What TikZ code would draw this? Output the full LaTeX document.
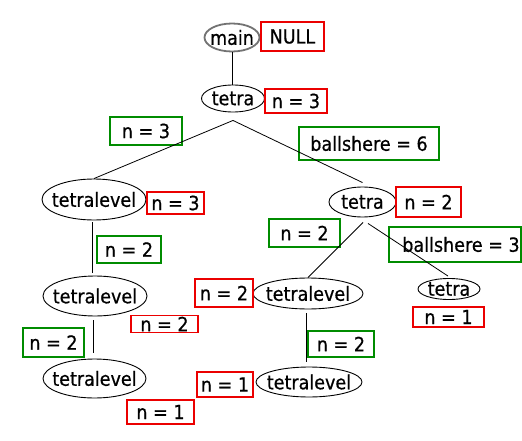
\documentclass[tikz,border=0pt]{standalone}
\usepackage{fontspec}
\setmainfont{DejaVu Sans}[FakeStretch=0.9,FakeBold=0.6]
\usetikzlibrary{shapes.geometric,calc}
\definecolor{boxred}{RGB}{235,0,0}
\definecolor{boxgreen}{RGB}{0,140,0}
\begin{document}
\begin{tikzpicture}[x=1pt,y=-1pt, font=\fontsize{19.5}{22}\selectfont,
  ell/.style={ellipse, draw, inner xsep=-30pt, inner ysep=-15pt, line width=0.9pt},
  rbox/.style={rectangle, draw=boxred, line width=1.3pt, inner sep=0pt},
  gbox/.style={rectangle, draw=boxgreen, line width=1.3pt, inner sep=0pt},
  conn/.style={draw, line width=0.8pt}]
\useasboundingbox (0,0) rectangle (522,441);
% ellipses
\node[ell, draw=black!55, line width=1.8pt, minimum width=55, minimum height=28] (main) at (232,37.5) {main};
\node[ell, minimum width=63, minimum height=27] (root) at (233,98.5) {tetra};
\node[ell, minimum width=104, minimum height=41] (L1) at (94,199.5) {tetralevel};
\node[ell, minimum width=67, minimum height=30] (T2) at (362.5,202) {tetra};
\node[ell, minimum width=104, minimum height=40] (L2) at (95,296) {tetralevel};
\node[ell, minimum width=103, minimum height=39] (L3) at (94.5,378.5) {tetralevel};
\node[ell, minimum width=110, minimum height=31] (R1) at (308,293.5) {tetralevel};
\node[ell, minimum width=106, minimum height=30] (R2) at (309,382) {tetralevel};
\node[ell, minimum width=62, minimum height=21] (leaf) at (449,289) {tetra};
% boxes
\node[rbox, minimum width=63, minimum height=29] (null) at (292.5,36.5) {NULL};
\node[rbox, minimum width=62, minimum height=24] (rn3) at (296,101) {n = 3};
\node[gbox, minimum width=72, minimum height=28] (gn3) at (146,131) {n = 3};
\node[gbox, minimum width=140, minimum height=33] (b6) at (369,143.5) {ballshere = 6};
\node[rbox, minimum width=57, minimum height=22] (r3L1) at (175.5,203) {n = 3};
\node[rbox, minimum width=65, minimum height=30] (r2T2) at (428.5,202) {n = 2};
\node[gbox, minimum width=71, minimum height=28] (g2T2) at (304.5,233) {n = 2};
\node[gbox, minimum width=132, minimum height=35] (b3) at (455,244.5) {\hspace*{12pt}ballshere = 3};
\node[gbox, minimum width=64, minimum height=27] (g2L1) at (129,249.5) {n = 2};
\node[rbox, minimum width=67, minimum height=17] (r2L2) at (164.5,324) {n = 2};
\node[gbox, minimum width=61, minimum height=29] (g2L2) at (53.5,342.5) {n = 2};
\node[rbox, minimum width=67, minimum height=24] (r1L3) at (160.5,412) {n = 1};
\node[rbox, minimum width=58, minimum height=28] (r2R) at (224,293) {n = 2};
\node[gbox, minimum width=66, minimum height=26] (g2R1) at (341,344) {n = 2};
\node[rbox, minimum width=56, minimum height=25] (r1R2) at (225,384.5) {n = 1};
\node[rbox, minimum width=71, minimum height=20] (r1leaf) at (448.5,317) {n = 1};
% connectors
\draw[conn] (main.south) -- (main.south |- root.north);
\draw[conn] ($(root.south)+(0,8)$) -- (L1.north);
\draw[conn] ($(root.south)+(0,8)$) -- ($(T2.north)+(0,-4)$);
\draw[conn] ($(L1.south)+(-2,2)$) -- ($(L2.north)+(-3,-3)$);
\draw[conn] ($(L2.south)+(-2,4)$) -- ($(L3.north)+(-1.5,-6)$);
\draw[conn] ($(T2.south)+(0.5,5)$) -- (R1.north);
\draw[conn] ($(T2.south)+(5.5,6)$) -- ($(leaf.north)+(-1,-2)$);
\draw[conn] ($(R1.south)+(-2,4)$) -- ($(R2.north)+(-3,-5)$);
\end{tikzpicture}
\end{document}
